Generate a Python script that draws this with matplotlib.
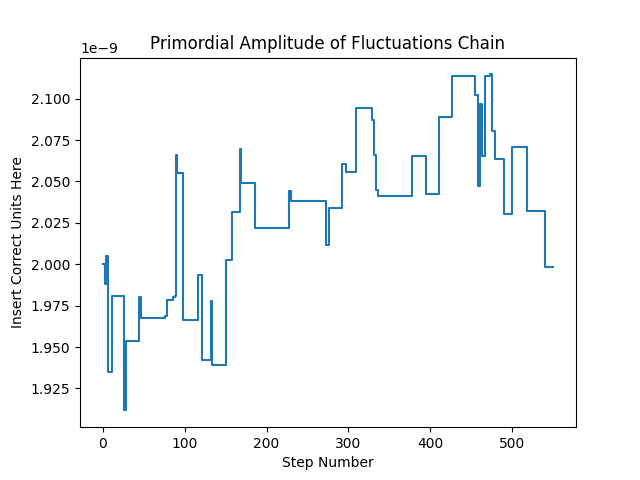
import matplotlib
matplotlib.use("Agg")
import matplotlib.pyplot as plt
import numpy as np

steps = [0, 3, 4, 7, 11, 26, 28, 45, 47, 76, 79, 86, 88, 90, 91, 98, 116, 121, 132, 134,
         150, 158, 168, 169, 186, 228, 230, 272, 276, 292, 297, 309, 329, 331, 334, 336,
         377, 395, 410, 426, 454, 458, 460, 463, 467, 472, 475, 479, 490, 499, 518, 540, 550]
values = [2.0004, 1.9883, 2.0048, 1.9347, 1.9808, 1.9117, 1.9534, 1.9802, 1.9677, 1.9687,
          1.9782, 1.9800, 1.9808, 2.0659, 2.0552, 1.9661, 1.9933, 1.9423, 1.9778, 1.9389,
          2.0028, 2.0316, 2.0694, 2.0492, 2.0222, 2.0443, 2.0381, 2.0119, 2.0337, 2.0605,
          2.0558, 2.0946, 2.0871, 2.0663, 2.0448, 2.0411, 2.0655, 2.0423, 2.0887, 2.1137,
          2.1022, 2.0472, 2.0966, 2.0655, 2.1137, 2.1147, 2.0805, 2.0633, 2.0302, 2.0706,
          2.0321, 1.9984, 1.9984]

x = np.array(steps)
y = np.array(values) * 1e-9

fig, ax = plt.subplots(figsize=(6.4, 4.8), dpi=100)
ax.plot(x, y, drawstyle='steps-post')
ax.set_title("Primordial Amplitude of Fluctuations Chain")
ax.set_xlabel("Step Number")
ax.set_ylabel("Insert Correct Units Here")
fig.savefig("out.png")
